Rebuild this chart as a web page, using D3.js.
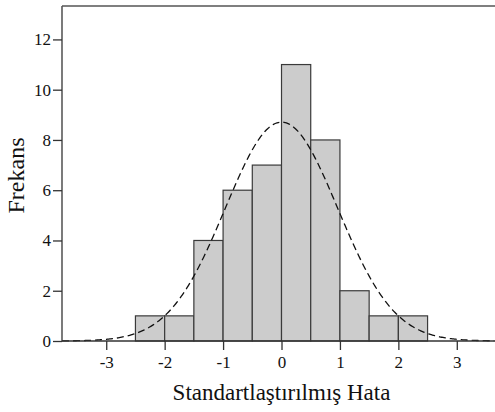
<!DOCTYPE html>
<html>
<head>
<meta charset="utf-8">
<script src="https://cdn.jsdelivr.net/npm/d3@7"></script>
<style>
  body { margin: 0; background: #fff; }
  svg text { font-family: "Liberation Serif", "Times New Roman", serif; fill: #111; }
</style>
</head>
<body>
<svg width="495" height="412"></svg>
<script>
// histogram bins (lower edge, upper edge) and counts
const binStart = [-2.5, -2, -1.5, -1, -0.5, 0, 0.5, 1, 1.5, 2];
const binEnd   = [-2, -1.5, -1, -0.5, 0, 0.5, 1, 1.5, 2, 2.5];
const counts   = [1, 1, 4, 6, 7, 11, 8, 2, 1, 1];
const xTicks = [-3, -2, -1, 0, 1, 2, 3];
const yTicks = [0, 2, 4, 6, 8, 10, 12];
// fitted normal curve parameters
const fitMean = 0.0, fitSd = 0.962, binWidth = 0.5;

const margin = {top: 6, right: 0, bottom: 71, left: 62},
  width = 495 - margin.left - margin.right,
  height = 412 - margin.top - margin.bottom;

const svg = d3.select("svg")
  .append("g")
  .attr("transform", `translate(${margin.left}, ${margin.top})`);

const x = d3.scaleLinear()
  .domain([-3.757, 3.654])
  .range([0, width]);

const y = d3.scaleLinear()
  .domain([0, 13.33])
  .range([height, 0]);

const data = counts.map((c, i) => ({x0: binStart[i], x1: binEnd[i], n: c}));

// bars
svg.selectAll("rect.bar")
  .data(data)
  .join("rect")
  .attr("class", "bar")
  .attr("x", d => x(d.x0))
  .attr("y", d => y(d.n))
  .attr("width", d => x(d.x1) - x(d.x0))
  .attr("height", d => y(0) - y(d.n))
  .style("fill", "#cccccc")
  .style("stroke", "#3a3a3a")
  .style("stroke-width", 1.2);

// normal curve
const total = d3.sum(counts);
const xs = d3.range(-3.757, 3.66, 0.02);
const curve = xs.map(v => [v, total * binWidth * Math.exp(-0.5 * ((v - fitMean) / fitSd) ** 2) / (fitSd * Math.sqrt(2 * Math.PI))]);

svg.append("path")
  .datum(curve)
  .attr("d", d3.line().x(d => x(d[0])).y(d => y(d[1])))
  .style("fill", "none")
  .style("stroke", "#111")
  .style("stroke-width", 1.3)
  .style("stroke-dasharray", "7,4");

// axes
const xAxis = svg.append("g")
  .attr("transform", `translate(0, ${height})`)
  .call(d3.axisBottom(x).tickValues(xTicks).tickSize(9).tickSizeOuter(0).tickFormat(d => String(d)));
const yAxis = svg.append("g")
  .call(d3.axisLeft(y).tickValues(yTicks).tickSize(9).tickSizeOuter(0));

[xAxis, yAxis].forEach(a => {
  a.attr("font-family", "Liberation Serif").attr("font-size", 17);
  a.select(".domain").remove();
  a.selectAll("line").style("stroke", "#333").style("stroke-width", 1.3);
  a.selectAll("text").style("fill", "#111");
});
xAxis.selectAll("text").attr("y", 27).attr("dy", null);
yAxis.selectAll("text").attr("x", -11);

// frame lines
svg.append("line").attr("x1", 0).attr("x2", width).attr("y1", height).attr("y2", height)
  .style("stroke", "#333").style("stroke-width", 1.3);
svg.append("line").attr("x1", 0).attr("x2", 0).attr("y1", 0).attr("y2", height)
  .style("stroke", "#333").style("stroke-width", 1.3);
svg.append("line").attr("x1", 0).attr("x2", width).attr("y1", 0).attr("y2", 0)
  .style("stroke", "#555").style("stroke-width", 1.6);

// axis titles
svg.append("text")
  .attr("x", x(0))
  .attr("y", height + 59)
  .attr("text-anchor", "middle")
  .style("font-size", "23px")
  .text("Standartlaştırılmış Hata");

svg.append("text")
  .attr("transform", `translate(${-38}, ${height / 2 + 2}) rotate(-90)`)
  .attr("text-anchor", "middle")
  .style("font-size", "24px")
  .text("Frekans");
</script>
</body>
</html>
